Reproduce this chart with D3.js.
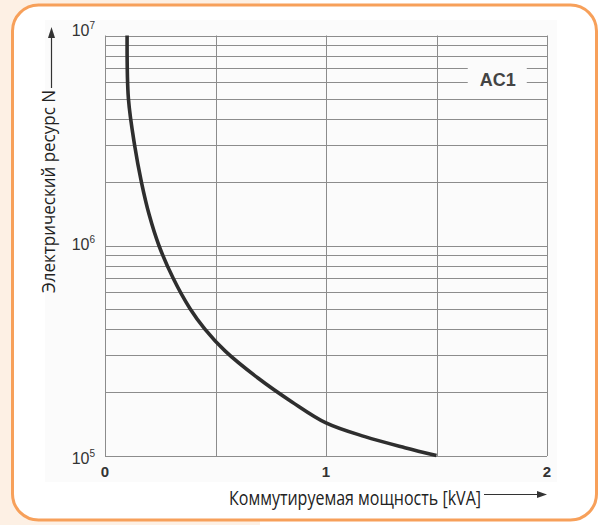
<!DOCTYPE html>
<html><head><meta charset="utf-8">
<script src="https://cdn.jsdelivr.net/npm/d3@7"></script>
<style>
html,body{margin:0;padding:0;background:#fff;}
svg{display:block;}
</style></head>
<body>
<svg id="chart" width="600" height="525"></svg>
<script>
// ---- data ----
const powerKVA = [0.10, 0.106, 0.134, 0.165, 0.200, 0.244, 0.308, 0.385, 0.452, 0.543, 0.692, 0.846, 1.00, 1.176, 1.357, 1.50];
const lifeN    = [1e7, 5.0e6, 3.0e6, 2.0e6, 1.4e6, 1.0e6, 7.0e5, 5.0e5, 4.0e5, 3.15e5, 2.34e5, 1.80e5, 1.43e5, 1.23e5, 1.09e5, 1.0e5];
const xTicks = [0, 1, 2];
const xGrid = [0, 0.5, 1, 1.5, 2];
const yDecades = [1e5, 1e6, 1e7];
const yExponents = ["5", "6", "7"];
const seriesLabel = "AC1";
const xTitle = "Коммутируемая мощность [kVA]";
const yTitle = "Электрический ресурс N";

const svg = d3.select("#chart");
const W = 600, H = 525;

// page background + card
svg.append("rect").attr("x",0).attr("y",0).attr("width",260).attr("height",H).attr("fill","#fdf0e4");
svg.append("rect").attr("x",12.5).attr("y",5).attr("width",584).attr("height",515)
  .attr("rx",26).attr("fill","#fff").attr("stroke","#f7a05a").attr("stroke-width",3);
svg.append("rect").attr("x",45).attr("y",20).attr("width",512).attr("height",462).attr("fill","#fbfbfb");

const m = {left:105, right:547, top:35.5, bottom:455.5};
const x = d3.scaleLinear().domain([0,2]).range([m.left, m.right]);
const y = d3.scaleLog().domain([1e5,1e7]).range([m.bottom, m.top]);

// grid
const gridColor = "#8c8c8c";
const yGridVals = [];
for (let d = 1e5; d < 1e7; d *= 10) for (let k = 1; k <= 9; k++) yGridVals.push(d*k);
yGridVals.push(1e7);
const g = svg.append("g");
g.selectAll("line.h").data(yGridVals).join("line")
  .attr("x1", m.left).attr("x2", m.right)
  .attr("y1", d => Math.round(y(d))+0.5).attr("y2", d => Math.round(y(d))+0.5)
  .attr("stroke", gridColor).attr("stroke-width",1);
g.selectAll("line.v").data(xGrid).join("line")
  .attr("x1", d => Math.round(x(d))+0.5).attr("x2", d => Math.round(x(d))+0.5)
  .attr("y1", m.top).attr("y2", m.bottom+0.5)
  .attr("stroke", gridColor).attr("stroke-width",1);

// series label with white box
const lx = x(1.75)+6, ly = y(6.3e6);
svg.append("rect").attr("x", lx-30).attr("y", ly-14).attr("width", 59).attr("height", 28).attr("fill","#fbfbfb");
svg.append("text").attr("x", lx).attr("y", ly+8).attr("text-anchor","middle")
  .attr("font-family","'Liberation Sans', Arial, sans-serif").attr("font-weight","bold")
  .attr("font-size",18).attr("fill","#444").text(seriesLabel);

// curve
const pts = powerKVA.map((v,i)=>[v, lifeN[i]]);
svg.append("path").datum(pts)
  .attr("d", d3.line().x(d=>x(d[0])).y(d=>y(d[1])).curve(d3.curveCatmullRom.alpha(0.5)))
  .attr("fill","none").attr("stroke","#2e2e2e").attr("stroke-width",3.6).attr("stroke-linecap","butt");

// y tick labels (10^n)
const tickFont = "'Liberation Sans', Arial, sans-serif";
const yOff = [8, 4, 0];
yDecades.forEach((d,i) => {
  const t = svg.append("text").attr("x", 95).attr("y", y(d)+yOff[i]).attr("text-anchor","end")
    .attr("font-family", tickFont).attr("font-size",16).attr("fill","#333");
  t.append("tspan").text("10");
  t.append("tspan").attr("dy",-7).attr("font-size",10).text(yExponents[i]);
});
// x tick labels
svg.selectAll("text.xt").data(xTicks).join("text")
  .attr("x", d => x(d)).attr("y", 477).attr("text-anchor","middle")
  .attr("font-family", tickFont).attr("font-size",15).attr("font-weight","bold").attr("fill","#333")
  .text(d => d);

// axis titles
const titleFont = "'Open Sans', 'Noto Sans', sans-serif";
svg.append("text").attr("x", 229).attr("y", 505)
  .attr("textLength", 252).attr("lengthAdjust","spacingAndGlyphs")
  .attr("font-family", titleFont).attr("font-size",20).attr("fill","#222").text(xTitle);
svg.append("text").attr("transform","translate(55,293) rotate(-90)")
  .attr("textLength", 203).attr("lengthAdjust","spacingAndGlyphs")
  .attr("font-family", titleFont).attr("font-size",19).attr("fill","#222").text(yTitle);

// arrows
svg.append("line").attr("x1",484).attr("x2",538).attr("y1",494.5).attr("y2",494.5).attr("stroke","#333").attr("stroke-width",1.2);
svg.append("path").attr("d","M547,494.5 L537,491 L537,498 Z").attr("fill","#333");
svg.append("line").attr("x1",51.5).attr("x2",51.5).attr("y1",88).attr("y2",36).attr("stroke","#333").attr("stroke-width",1.2);
svg.append("path").attr("d","M51.5,27 L48,38 L55,38 Z").attr("fill","#333");
</script>
</body></html>
